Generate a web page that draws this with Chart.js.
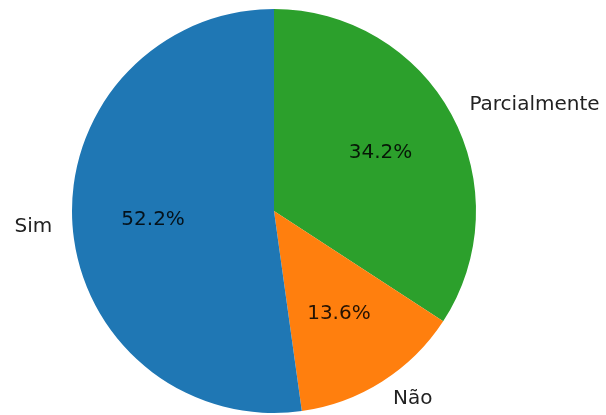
<!DOCTYPE html>
<html>
<head>
<meta charset="utf-8">
<script src="https://cdn.jsdelivr.net/npm/chart.js@4/dist/chart.umd.min.js"></script>
<style>
html,body{margin:0;padding:0;background:#fff;}
#wrap{width:606px;height:415px;position:relative;}
</style>
</head>
<body>
<div id="wrap"><canvas id="c" width="606" height="415"></canvas></div>
<script>
// Data (matplotlib order, counter-clockwise from top)
const categories = ['Sim', 'Não', 'Parcialmente'];
const values = [52.2, 13.6, 34.2];
const colors = ['#1f77b4', '#ff7f0e', '#2ca02c'];

// Chart.js draws clockwise, so reverse to reproduce counter-clockwise order
const cjLabels = categories.slice().reverse();
const cjValues = values.slice().reverse();
const cjColors = colors.slice().reverse();

const labelPlugin = {
  id: 'pieLabels',
  afterDatasetsDraw(chart) {
    const ctx = chart.ctx;
    const meta = chart.getDatasetMeta(0);
    const data = chart.data.datasets[0].data;
    const total = data.reduce((a, b) => a + b, 0);
    ctx.save();
    ctx.font = '20px "DejaVu Sans"';
    ctx.textBaseline = 'middle';
    meta.data.forEach((arc, i) => {
      const p = arc.getProps(['x', 'y', 'startAngle', 'endAngle', 'outerRadius'], true);
      const mid = (p.startAngle + p.endAngle) / 2;
      const c = Math.cos(mid), s = Math.sin(mid);
      // outer label
      const lx = p.x + c * p.outerRadius * 1.1;
      const ly = p.y + s * p.outerRadius * 1.1;
      ctx.fillStyle = '#222';
      ctx.textAlign = c < 0 ? 'right' : 'left';
      ctx.fillText(chart.data.labels[i], lx, ly);
      // percent label
      const px = p.x + c * p.outerRadius * 0.6;
      const py = p.y + s * p.outerRadius * 0.6;
      ctx.fillStyle = 'rgba(0,0,0,0.85)';
      ctx.textAlign = 'center';
      ctx.fillText((data[i] / total * 100).toFixed(1) + '%', px, py);
    });
    ctx.restore();
  }
};

new Chart(document.getElementById('c'), {
  type: 'pie',
  data: {
    labels: cjLabels,
    datasets: [{
      data: cjValues,
      backgroundColor: cjColors,
      borderWidth: 0,
      hoverOffset: 0
    }]
  },
  options: {
    responsive: false,
    animation: false,
    layout: { padding: { top: 9, bottom: 2, left: 72, right: 130 } },
    plugins: {
      legend: { display: false },
      tooltip: { enabled: false }
    }
  },
  plugins: [labelPlugin]
});
</script>
</body>
</html>
